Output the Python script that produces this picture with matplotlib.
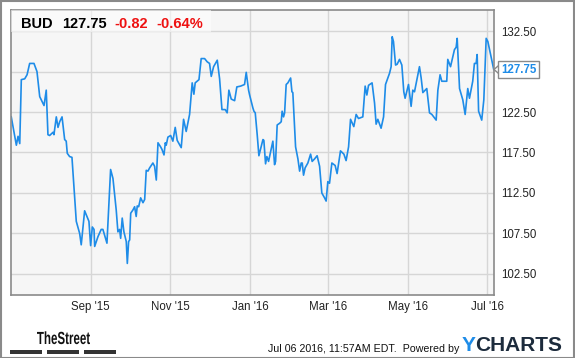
import numpy as np
import pandas as pd
import matplotlib
matplotlib.use("Agg")
import matplotlib.pyplot as plt
import matplotlib.dates as mdates
from matplotlib.patches import Rectangle, PathPatch
from matplotlib.textpath import TextPath
from matplotlib.font_manager import FontProperties
from matplotlib.transforms import Affine2D

# days after 2015-07-02 and BUD close
days = [0.2, 4.1, 5.4, 6.7, 7.9, 10.5, 12.3, 14.3, 17.6, 19.9, 22.0, 25.3, 27.0, 28.3,
        29.6, 32.2, 32.9, 34.7, 36.0, 37.3, 39.1, 41.1, 42.3, 43.1, 44.9, 46.7, 50.0,
        52.6, 53.8, 56.4, 59.7, 61.0, 62.3, 63.6, 64.1, 66.6, 69.1, 70.4, 73.5, 76.3,
        78.1, 80.6, 81.9, 83.2, 84.0, 85.2, 86.5, 88.3, 89.1, 90.1, 90.9, 91.7, 93.4,
        94.7, 95.9, 96.7, 97.8, 99.3, 101.1, 102.4, 103.6, 104.9, 106.2, 108.7, 110.0,
        111.3, 112.6, 114.6, 115.6, 117.2, 118.2, 118.9, 120.2, 122.3, 124.0, 125.8,
        127.3, 130.4, 132.2, 134.2, 136.8, 138.8, 140.1, 141.1, 144.0, 145.7, 148.3,
        150.3, 152.1, 153.4, 155.2, 158.0, 159.8, 161.6, 164.1, 165.6, 166.9, 168.7,
        171.3, 173.0, 175.9, 178.9, 180.2, 182.0, 182.8, 185.3, 186.1, 187.1, 188.6,
        189.9, 193.0, 193.7, 195.0, 196.0, 197.3, 199.3, 200.6, 201.9, 202.7, 203.9,
        205.7, 207.0, 207.7, 208.8, 209.6, 210.8, 212.1, 214.2, 215.2, 215.9, 218.0,
        219.8, 221.1, 222.3, 223.1, 224.1, 225.3, 227.4, 229.5, 230.7, 232.5, 234.5,
        236.4, 238.1, 240.2, 241.4, 242.7, 244.0, 245.8, 248.3, 249.8, 252.4, 255.0,
        256.7, 258.6, 260.1, 262.6, 264.4, 266.2, 269.5, 271.3, 272.6, 273.9, 276.6,
        278.5, 279.7, 281.0, 283.5, 285.4, 286.9, 290.0, 291.2, 292.0, 293.0, 294.6,
        295.8, 297.6, 299.4, 300.9, 301.9, 304.5, 306.5, 307.8, 309.1, 312.9, 314.2,
        315.5, 318.5, 320.6, 322.4, 325.7, 327.0, 328.7, 330.0, 333.8, 334.6, 336.7,
        339.7, 341.0, 341.8, 343.6, 346.1, 347.9, 349.9, 351.2, 353.7, 355.0, 356.3,
        357.1, 358.2, 360.6, 362.2, 364.0, 365.3, 369.8]
price = [121.9, 118.4, 119.5, 118.6, 126.5, 126.6, 127.1, 128.5, 128.5, 127.5, 124.4,
         123.3, 125.2, 119.7, 119.6, 120.0, 119.7, 121.9, 120.6, 121.3, 121.9, 119.1,
         118.9, 117.4, 117.0, 116.9, 109.0, 107.5, 106.1, 110.3, 109.0, 106.0, 108.3,
         108.0, 105.9, 107.1, 108.0, 108.0, 106.3, 115.4, 114.3, 110.4, 107.7, 108.0,
         106.9, 109.4, 107.7, 106.5, 103.8, 106.5, 106.7, 110.0, 110.4, 110.8, 109.6,
         110.9, 110.8, 111.9, 111.3, 111.7, 115.3, 115.2, 115.6, 116.2, 115.8, 114.1,
         118.7, 118.2, 117.9, 117.2, 118.7, 118.4, 119.4, 119.6, 118.9, 120.6, 119.0,
         118.1, 121.6, 120.1, 122.2, 126.1, 124.7, 126.1, 126.5, 129.1, 129.1, 128.7,
         128.5, 126.9, 128.1, 128.9, 126.6, 122.8, 122.8, 122.4, 125.2, 124.1, 123.9,
         125.6, 125.7, 125.9, 127.4, 125.2, 124.6, 123.0, 122.6, 122.4, 119.7, 117.1,
         119.1, 119.0, 116.1, 117.0, 116.4, 117.9, 118.9, 116.0, 116.4, 120.9, 121.1,
         121.3, 122.6, 121.9, 122.4, 125.9, 126.1, 126.7, 125.0, 124.9, 118.2, 116.7,
         115.2, 116.2, 116.2, 114.7, 115.6, 116.2, 117.3, 116.4, 116.7, 117.1, 115.8,
         112.5, 111.9, 111.5, 113.9, 113.7, 116.2, 115.9, 114.9, 117.7, 117.3, 116.5,
         118.2, 121.6, 120.7, 122.2, 121.7, 121.9, 125.7, 124.6, 125.8, 126.1, 123.6,
         121.0, 121.6, 120.5, 121.9, 125.9, 127.3, 128.1, 131.8, 131.2, 128.3, 128.4,
         129.0, 128.3, 125.0, 124.2, 125.9, 123.2, 125.2, 125.0, 128.1, 126.7, 124.9,
         125.4, 122.4, 122.2, 121.5, 125.2, 127.1, 126.3, 126.3, 129.0, 128.1, 130.2,
         130.5, 131.6, 125.4, 124.0, 122.2, 125.4, 124.2, 126.3, 128.5, 128.5, 129.6,
         122.6, 121.5, 124.0, 131.6, 131.2, 127.75]
yticks = [102.5, 107.5, 112.5, 117.5, 122.5, 127.5, 132.5]
month_ticks = ["2015-09-01", "2015-11-01", "2016-01-01", "2016-03-01", "2016-05-01", "2016-07-01"]

start = pd.Timestamp("2015-07-02")
dates = start + pd.to_timedelta(days, unit="D")

plt.rcParams["font.family"] = ["Liberation Sans", "DejaVu Sans"]

fig = plt.figure(figsize=(5.75, 3.58), dpi=100)
W, H = 575.0, 358.0
ax = fig.add_axes([11 / W, 1 - 295 / H, 483 / W, 285 / H])
ax.set_facecolor("#f6f6f6")

ax.plot(dates, price, color="#1e8ce8", lw=1.2, solid_joinstyle="round")

last = price[-1]
ax.set_xlim(start, pd.Timestamp("2016-07-06"))
ax.set_ylim(99.9, 135.1)
ax.set_yticks(yticks)
# the 127.50 label sits under the last-price flag
ax.set_yticklabels(["" if abs(v - last) < 2 else "%.2f" % v for v in yticks])
ax.set_xticks(pd.to_datetime(month_ticks))
ax.xaxis.set_major_formatter(mdates.DateFormatter("%b '%y"))
ax.yaxis.tick_right()
ax.tick_params(length=0, labelsize=8.3, colors="#222222")
ax.tick_params(axis="y", pad=5)
ax.tick_params(axis="x", pad=4.5)
ax.grid(True, color="#d6d6d6", lw=1)
ax.set_axisbelow(True)
for s in ax.spines.values():
    s.set_color("#8a8a8a")
    s.set_linewidth(1.2)

# header box
ax.add_patch(Rectangle((0, 1 - 22 / 285), 200 / 483, 22 / 285, transform=ax.transAxes,
                       facecolor="white", alpha=0.55, edgecolor="none", zorder=3))
hy = 1 - 14 / 285
ax.text(10 / 483, hy, "BUD", transform=ax.transAxes, fontsize=10.5, fontweight="bold",
        va="center", zorder=4)
ax.text(51 / 483, hy, "127.75", transform=ax.transAxes, fontsize=10.5, fontweight="bold",
        va="center", zorder=4)
ax.text(103 / 483, hy, "-0.82", transform=ax.transAxes, fontsize=10.5, fontweight="bold",
        color="#ee1111", va="center", zorder=4)
ax.text(145 / 483, hy, "-0.64%", transform=ax.transAxes, fontsize=10.5, fontweight="bold",
        color="#ee1111", va="center", zorder=4)

# last price flag
ytr = ax.get_yaxis_transform()
ax.plot([1 + 7 / 483, 1.0, 1 + 7 / 483], [last + 0.75, last, last - 0.75], transform=ytr,
        color="#8a8a8a", lw=1, clip_on=False)
ax.text(1 + 7 / 483, last, "%.2f" % last, transform=ytr, fontsize=8.3, fontweight="bold",
        color="#1e8ce8", va="center", ha="left", clip_on=False,
        bbox=dict(boxstyle="square,pad=0.25", facecolor="white", edgecolor="#8a8a8a", lw=1))

# footer: TheStreet logo, squeezed horizontally like the original
tp = TextPath((0, 0), "TheStreet", size=18, prop=FontProperties(family="Liberation Sans", weight="bold"))
ext = tp.get_extents()
sx = 53.0 / ext.width
sy = 12.8 / (0.729 * 18)
tr = Affine2D().translate(-ext.x0, 0).scale(sx, sy).translate(37, H - 344)
fig.add_artist(PathPatch(tr.transform_path(tp), facecolor="#111111", edgecolor="none",
                         transform=None))
for x0, x1 in [(10, 42), (47, 79), (84, 116)]:
    fig.add_artist(Rectangle((x0 / W, 1 - 354 / H), (x1 - x0) / W, 4 / H,
                             facecolor="#333333", edgecolor="none"))
fig.text(459 / W, 1 - 352 / H, "Jul 06 2016, 11:57AM EDT.  Powered by", fontsize=7.7,
         ha="right", va="baseline", color="#111111")
fig.text(462 / W, 1 - 351 / H, "Y", fontsize=15, fontweight="bold", color="#1e8ce8",
         ha="left", va="baseline")
fig.text(475 / W, 1 - 351 / H, "CHARTS", fontsize=15, fontweight="bold", color="#1c2b3c",
         ha="left", va="baseline")

fig.add_artist(Rectangle((0.5 / W, 0.5 / H), 1 - 1.5 / W, 1 - 1.5 / H, facecolor="none",
                         edgecolor="#8a8a8a", lw=1.5))

fig.savefig("out.png", dpi=100, facecolor="white")
